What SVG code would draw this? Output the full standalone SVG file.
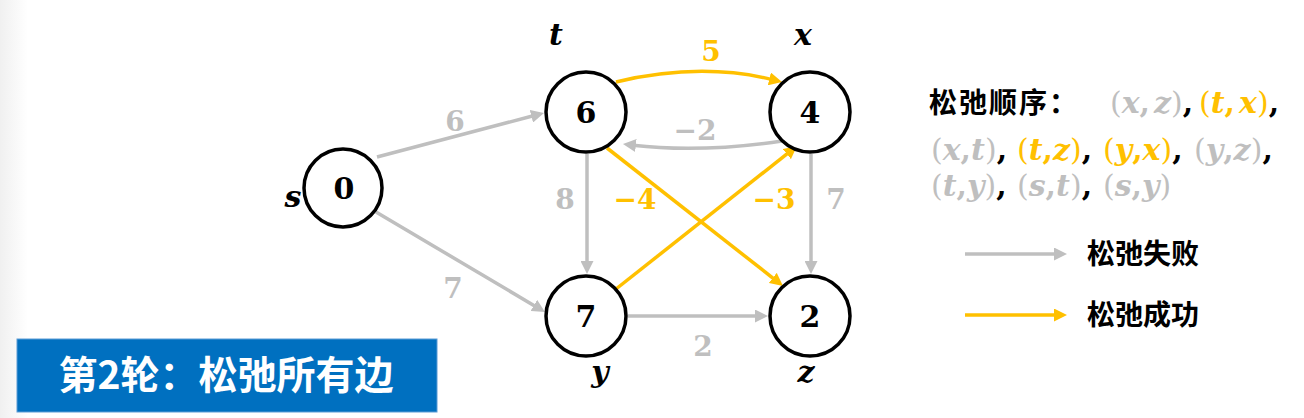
<svg xmlns="http://www.w3.org/2000/svg" width="1304" height="418" viewBox="0 0 1304 418">
<style>
.node ellipse{fill:#fff;stroke:#000;stroke-width:3.5}
.val{font-family:"DejaVu Serif","Liberation Serif",serif;font-weight:bold;font-size:30px;text-anchor:middle;fill:#000}
.name{font-family:"DejaVu Serif","Liberation Serif",serif;font-weight:bold;font-style:italic;font-size:30px;text-anchor:middle;fill:#000}
.g{stroke:#BFBFBF;stroke-width:3.5;fill:none}
.y{stroke:#FFC000;stroke-width:3.5;fill:none}
.lbl{font-family:"DejaVu Serif","Liberation Serif",serif;font-weight:bold;font-size:28px;text-anchor:middle}
.lg{fill:#BFBFBF}
.ly{fill:#FFC000}
.cjk{font-family:"Noto Sans CJK SC",sans-serif;font-weight:bold}
.m{font-family:"DejaVu Serif","Liberation Serif",serif;font-size:30px}
.m .v{font-style:italic;font-weight:bold}
.m .c{font-weight:bold}
.m .k{font-weight:bold;fill:#000}
</style>
<defs>
<linearGradient id="edge" x1="0" y1="0" x2="1" y2="0">
<stop offset="0" stop-color="#f0f0f0"/>
<stop offset="1" stop-color="#ffffff"/>
</linearGradient>
<marker id="ag" markerUnits="userSpaceOnUse" markerWidth="14" markerHeight="13" refX="3" refY="6.5" orient="auto">
<path d="M0,0 L13,6.5 L0,13 z" fill="#BFBFBF"/>
</marker>
<marker id="ay" markerUnits="userSpaceOnUse" markerWidth="14" markerHeight="13" refX="3" refY="6.5" orient="auto">
<path d="M0,0 L13,6.5 L0,13 z" fill="#FFC000"/>
</marker>
</defs>
<rect x="0" y="0" width="1304" height="418" fill="#fff"/>
<rect x="0" y="0" width="28" height="418" fill="url(#edge)"/>

<g id="connectors">
<path class="g" d="M377,157 L534.3,115.5" marker-end="url(#ag)"/>
<path class="g" d="M376,212 L536.4,306.9" marker-end="url(#ag)"/>
<path class="g" d="M587,154 L587,264" marker-end="url(#ag)"/>
<path class="g" d="M811,154 L811,264" marker-end="url(#ag)"/>
<path class="g" d="M628,316 L758,316" marker-end="url(#ag)"/>
<path class="g" d="M782,141 Q700,153 632.9,145.2" marker-end="url(#ag)"/>
<path class="y" d="M616,82 Q700,62 772.3,79.6" marker-end="url(#ay)"/>
<path class="y" d="M607,148 L775.1,279.8" marker-end="url(#ay)"/>
<path class="y" d="M616,289 L789.2,152.2" marker-end="url(#ay)"/>
<text class="lbl lg" x="455" y="131">6</text>
<text class="lbl lg" x="453" y="298">7</text>
<text class="lbl ly" x="711" y="61">5</text>
<text class="lbl lg" x="695" y="140">−2</text>
<text class="lbl lg" x="565" y="209">8</text>
<text class="lbl ly" x="635" y="209">−4</text>
<text class="lbl ly" x="774" y="209">−3</text>
<text class="lbl lg" x="836" y="209">7</text>
<text class="lbl lg" x="703" y="356">2</text>
</g>

<g id="node-s" class="node">
<ellipse cx="343" cy="188" rx="39" ry="39"/>
<text class="val" x="344" y="199">0</text>
<text class="name" x="293" y="207">s</text>
</g>
<g id="node-t" class="node">
<ellipse cx="586" cy="112" rx="40" ry="40"/>
<text class="val" x="586" y="123">6</text>
<text class="name" x="556" y="45">t</text>
</g>
<g id="node-x" class="node">
<ellipse cx="810" cy="112" rx="40" ry="40"/>
<text class="val" x="810" y="123">4</text>
<text class="name" x="803" y="45">x</text>
</g>
<g id="node-y" class="node">
<ellipse cx="586" cy="316" rx="40" ry="40"/>
<text class="val" x="586" y="327">7</text>
<text class="name" x="600" y="382">y</text>
</g>
<g id="node-z" class="node">
<ellipse cx="810" cy="316" rx="40" ry="40"/>
<text class="val" x="810" y="327">2</text>
<text class="name" x="806" y="382">z</text>
</g>

<g id="order">
<text class="cjk" x="929" y="113" font-size="28" letter-spacing="2" fill="#000">松弛顺序：</text>
<text class="m lg" x="1110" y="113">(<tspan class="v">x</tspan><tspan class="c">,</tspan><tspan class="v" dx="4">z</tspan>)<tspan class="k">,</tspan></text>
<text class="m ly" x="1199" y="113">(<tspan class="v">t</tspan><tspan class="c">,</tspan><tspan class="v" dx="4">x</tspan>)<tspan class="k">,</tspan></text>
<text class="m lg" x="931" y="160">(<tspan class="v">x</tspan><tspan class="c">,</tspan><tspan class="v">t</tspan>)<tspan class="k">,</tspan></text>
<text class="m ly" x="1017" y="160">(<tspan class="v">t</tspan><tspan class="c">,</tspan><tspan class="v">z</tspan>)<tspan class="k">,</tspan></text>
<text class="m ly" x="1103" y="160">(<tspan class="v">y</tspan><tspan class="c">,</tspan><tspan class="v">x</tspan>)<tspan class="k">,</tspan></text>
<text class="m lg" x="1194" y="160">(<tspan class="v">y</tspan><tspan class="c">,</tspan><tspan class="v">z</tspan>)<tspan class="k">,</tspan></text>
<text class="m lg" x="931" y="196">(<tspan class="v">t</tspan><tspan class="c">,</tspan><tspan class="v">y</tspan>)<tspan class="k">,</tspan></text>
<text class="m lg" x="1017" y="196">(<tspan class="v">s</tspan><tspan class="c">,</tspan><tspan class="v">t</tspan>)<tspan class="k">,</tspan></text>
<text class="m lg" x="1103" y="196">(<tspan class="v">s</tspan><tspan class="c">,</tspan><tspan class="v">y</tspan>)</text>
</g>

<g id="legend">
<path class="g" d="M965,254 L1057,254" marker-end="url(#ag)"/>
<text class="cjk" x="1087" y="264" font-size="28" fill="#000">松弛失败</text>
<path class="y" d="M965,315 L1057,315" marker-end="url(#ay)"/>
<text class="cjk" x="1087" y="325" font-size="28" fill="#000">松弛成功</text>
</g>

<g id="title">
<rect x="17" y="339" width="420" height="73" fill="#0070C0" stroke="#5B9BD5" stroke-width="1"/>
<text class="cjk" x="226" y="389" font-size="39" fill="#fff" text-anchor="middle">第2轮：松弛所有边</text>
</g>
</svg>
